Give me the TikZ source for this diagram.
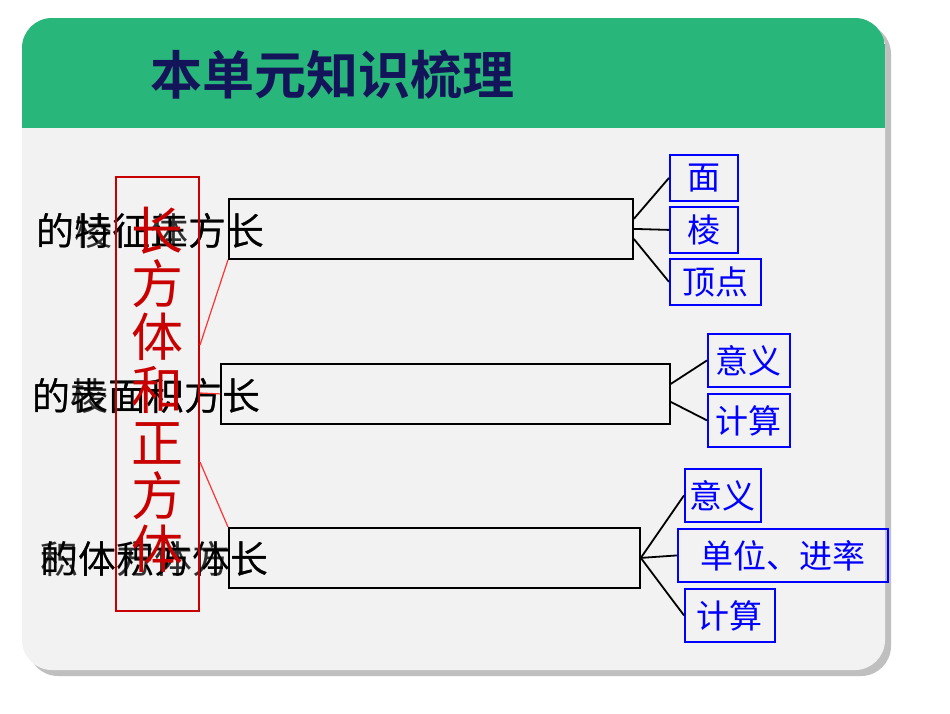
\documentclass[tikz,border=0pt]{standalone}
\usepackage{fontspec}
\newfontfamily\cjk{Noto Sans CJK SC}
\newfontfamily\cjkb{Noto Sans CJK SC}[BoldFont={* Bold}]
\begin{document}
\begin{tikzpicture}[x=1pt,y=-1pt,
  blk/.style={draw=black,line width=1.8pt},
  bbox/.style={draw=blue,line width=1.8pt,text=blue,font=\cjk\fontsize{33}{33}\selectfont,inner sep=1pt,anchor=north west,minimum height=46pt},
  ltxt/.style={font=\cjk\fontsize{38}{38}\selectfont,anchor=west,inner sep=0pt},
  con/.style={draw=black,line width=1.8pt},
  rcon/.style={draw=red!80,line width=1.2pt}]
\useasboundingbox (0,0) rectangle (950,713);
\fill[white] (0,0) rectangle (950,713);
\fill[black!25,rounded corners=30pt] (28,24) rectangle (891,676);
\fill[black!5,rounded corners=30pt] (22,18) rectangle (885,670);
\begin{scope}
\clip[rounded corners=30pt] (22,18) rectangle (885,670);
\fill[fill={rgb,255:red,40;green,182;blue,122}] (22,18) rectangle (885,128);
\end{scope}
\node[font=\cjkb\bfseries\fontsize{52}{52}\selectfont,text={rgb,255:red,20;green,20;blue,90},anchor=west,inner sep=0pt] (title) at (150,75) {本单元知识梳理};
% black boxes
\node[blk,minimum width=404pt,minimum height=60pt,anchor=north west] (r1) at (228,198) {};
\node[blk,minimum width=449pt,minimum height=60pt,anchor=north west] (r2) at (220,363) {};
\node[blk,minimum width=411pt,minimum height=60pt,anchor=north west] (r3) at (228,527) {};
% left overlapped texts
\node[ltxt] (t1a) at (36,231) {的特征正方长};
\node[ltxt,opacity=0.8] (t1b) at (36,231) {的棱征体方长};
\node[ltxt] (t2a) at (32,396) {的表面积方长};
\node[ltxt,opacity=0.8] (t2b) at (32,396) {的棱面积方长};
\node[ltxt] (t3a) at (40,559) {的体积方体长};
\node[ltxt,opacity=0.8] (t3b) at (40,559) {积体方体方长};
% red box
\node[draw={rgb,255:red,200;green,0;blue,0},line width=2pt,minimum width=83pt,minimum height=434pt,anchor=north west] (rb) at (115,176) {};
\node[text={rgb,255:red,200;green,0;blue,0},font=\cjk\fontsize{52}{53}\selectfont,align=center,inner sep=0pt] (rt) at (157,390) {长\\方\\体\\和\\正\\方\\体};
\draw[rcon] (rb.east |- 0,345) coordinate (c1) -- (r1.south west);
\draw[rcon] (rb.east |- 0,393) coordinate (c2) -- (r2.west);
\draw[rcon] (rb.east |- 0,462) coordinate (c3) -- (r3.north west);
% blue boxes
\node[bbox,minimum width=68pt] (a1) at (669,154) {面};
\node[bbox,minimum width=68pt] (a2) at (669,206) {棱};
\node[bbox,minimum width=91pt] (a3) at (669,258) {顶点};
\node[bbox,minimum width=82pt,minimum height=53pt] (b1) at (707,333) {意义};
\node[bbox,minimum width=82pt,minimum height=53pt] (b2) at (707,393) {计算};
\node[bbox,minimum width=76pt,minimum height=53pt] (c1b) at (684,468) {意义};
\node[bbox,minimum width=210pt,minimum height=53pt] (c2b) at (677,528) {单位、进率};
\node[bbox,minimum width=90pt,minimum height=53pt] (c3b) at (684,588) {计算};
\draw[con] (r1.east) ++(0,-10) -- (a1.west);
\draw[con] (r1.east) -- (a2.west);
\draw[con] (r1.east) ++(0,10) -- (a3.west);
\draw[con] (r2.east) ++(0,-10) -- (b1.west);
\draw[con] (r2.east) ++(0,8) -- (b2.west);
\draw[con] (r3.east) -- (c1b.west);
\draw[con] (r3.east) -- (c2b.west);
\draw[con] (r3.east) -- (c3b.west);
\end{tikzpicture}
\end{document}
